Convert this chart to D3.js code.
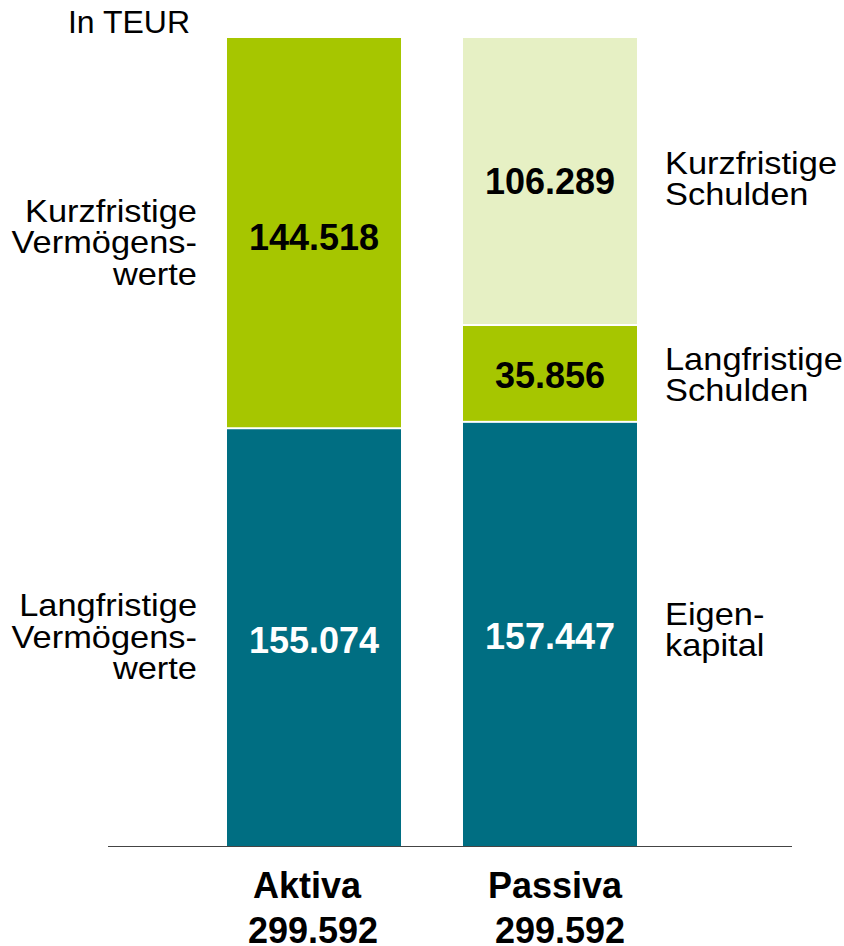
<!DOCTYPE html>
<html><head><meta charset="utf-8">
<script src="https://cdn.jsdelivr.net/npm/d3@7"></script>
<style>body{margin:0;background:#fff}svg{display:block}</style>
</head><body>
<script>
const categories = ["Aktiva", "Passiva"];
const totals = ["299.592", "299.592"];
const aktivaSegments = ["Langfristige Vermögenswerte", "Kurzfristige Vermögenswerte"];
const aktivaValues = [155.074, 144.518];
const passivaSegments = ["Eigenkapital", "Langfristige Schulden", "Kurzfristige Schulden"];
const passivaValues = [157.447, 35.856, 106.289];
const aktivaLabels = [["Langfristige", "Vermögens-", "werte"], ["Kurzfristige", "Vermögens-", "werte"]];
const passivaLabels = [["Eigen-", "kapital"], ["Langfristige", "Schulden"], ["Kurzfristige", "Schulden"]];
const unitLabel = "In TEUR";

const W = 844, H = 946;
const fmt = v => v.toFixed(3);
const svg = d3.select("body").append("svg").attr("width", W).attr("height", H)
  .style("font-family", "'Liberation Sans', Arial, sans-serif");

const x = d3.scaleBand().domain(categories).range([166, 698]).paddingInner(0.2627).paddingOuter(0.2585);
const total = d3.sum(aktivaValues);
const y = d3.scaleLinear().domain([0, total]).range([847, 38]);

const colorsA = ["#006E82", "#A6C600"];
const colorsP = ["#006E82", "#A6C600", "#E6F0C4"];
const textColA = ["#fff", "#000"];
const textColP = ["#fff", "#000", "#000"];

function stackSegs(values) {
  let acc = 0;
  return values.map((v, i) => { const s = { i, v, y0: acc, y1: acc + v }; acc += v; return s; });
}

const groups = [
  { cat: "Aktiva", segs: stackSegs(aktivaValues), colors: colorsA, tcol: textColA, side: "left", labels: aktivaLabels, labDy: [-1, 9], valDy: [0, 2], totDx: -1, catDx: -7 },
  { cat: "Passiva", segs: stackSegs(passivaValues), colors: colorsP, tcol: textColP, side: "right", labels: passivaLabels, labDy: [-5, 1, -3], valDy: [0, 0, -3], totDx: 10, catDx: 5 }
];

const SX = 1.11, LFS = 31, LH = 31.5;

groups.forEach(g => {
  const gx = x(g.cat), bw = x.bandwidth();
  const sel = svg.append("g");
  sel.selectAll("rect").data(g.segs).join("rect")
    .attr("x", gx).attr("width", bw)
    .attr("y", d => y(d.y1) + (d.i === g.segs.length - 1 ? 0 : 1))
    .attr("height", d => y(d.y0) - y(d.y1) - (d.i === g.segs.length - 1 ? 0 : 1) - (d.i === 0 ? 0 : 1))
    .attr("fill", d => g.colors[d.i]);
  sel.selectAll("text.val").data(g.segs).join("text").attr("class", "val")
    .attr("x", gx + bw / 2)
    .attr("y", d => (y(d.y0) + y(d.y1)) / 2 + 15 + g.valDy[d.i])
    .attr("text-anchor", "middle")
    .attr("font-size", 36).attr("font-weight", "bold")
    .attr("fill", d => g.tcol[d.i])
    .text(d => fmt(d.v));
  // side labels
  const lx = g.side === "left" ? gx - 30 : gx + bw + 28;
  const anchor = g.side === "left" ? "end" : "start";
  g.segs.forEach(d => {
    const lines = g.labels[d.i];
    const cy = (y(d.y0) + y(d.y1)) / 2 + g.labDy[d.i];
    const t = svg.append("text").attr("text-anchor", anchor).attr("font-size", LFS).attr("fill", "#000")
      .attr("transform", `translate(${lx},0) scale(${SX},1)`);
    lines.forEach((ln, k) => {
      t.append("tspan").attr("x", 0)
        .attr("y", cy - (lines.length - 1) * LH / 2 + k * LH + 11)
        .text(ln);
    });
  });
  // category labels
  svg.append("text").attr("x", gx + bw / 2 + g.catDx).attr("y", 898).attr("text-anchor", "middle")
    .attr("font-size", 36).attr("font-weight", "bold").text(g.cat);
  svg.append("text").attr("x", gx + bw / 2 + g.totDx).attr("y", 943).attr("text-anchor", "middle")
    .attr("font-size", 36).attr("font-weight", "bold").text(totals[categories.indexOf(g.cat)]);
});

svg.append("line").attr("x1", 108).attr("x2", 792).attr("y1", 846.5).attr("y2", 846.5)
  .attr("stroke", "#444").attr("stroke-width", 1);

svg.append("text").attr("x", 190).attr("y", 33).attr("text-anchor", "end")
  .attr("font-size", 32).text(unitLabel);
</script>
</body></html>
